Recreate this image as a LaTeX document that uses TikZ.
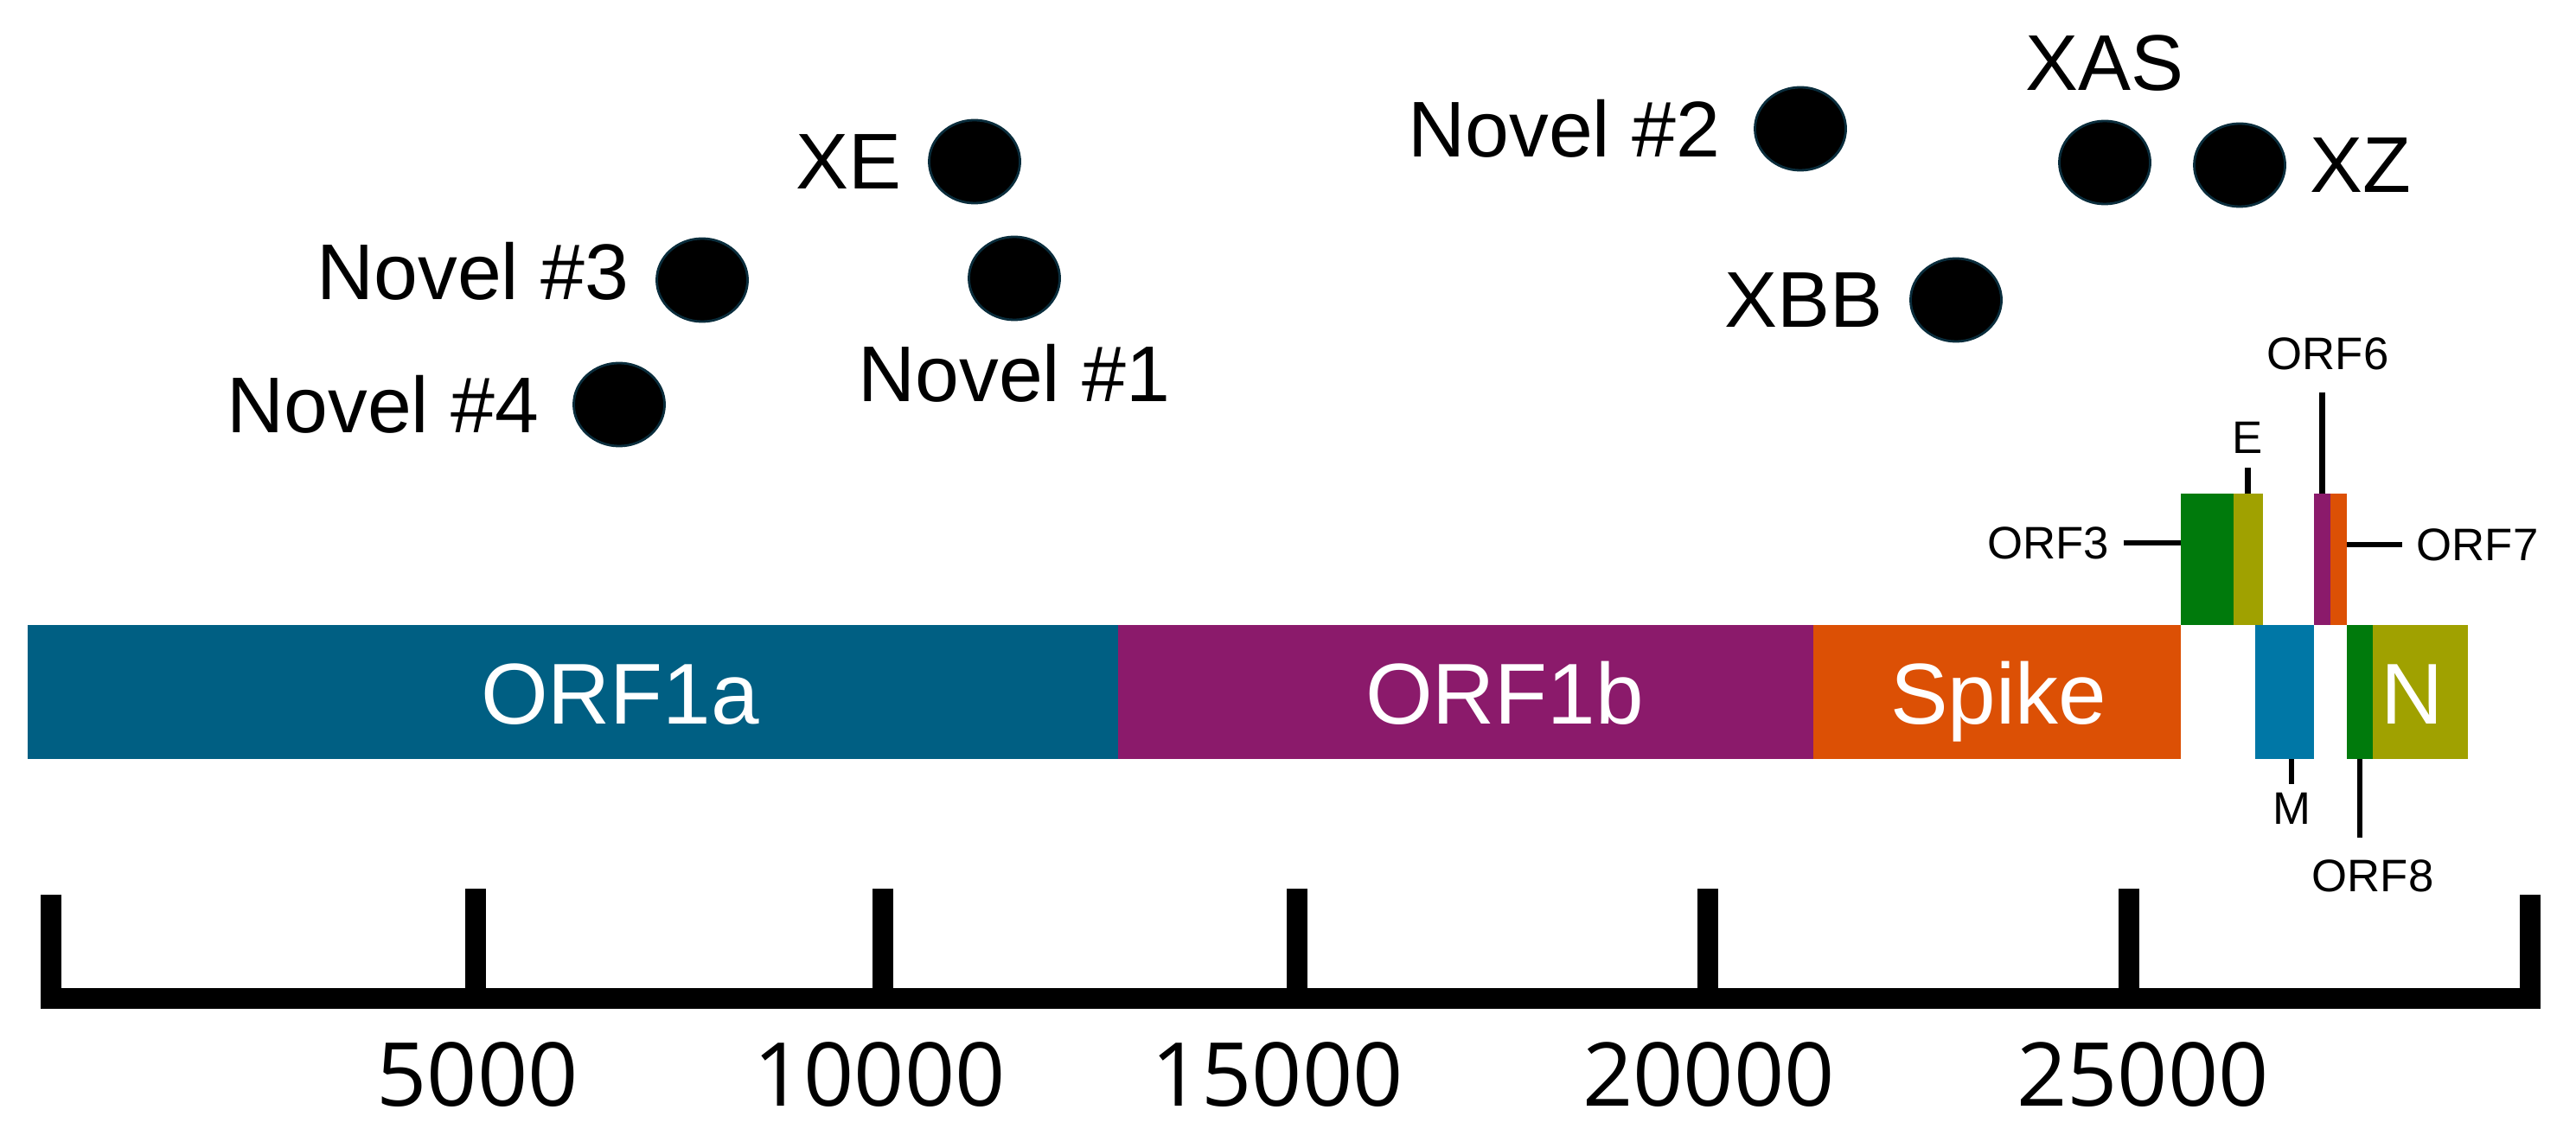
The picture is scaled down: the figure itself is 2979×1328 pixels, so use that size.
\documentclass[tikz,border=0pt]{standalone}
\usepackage{fontspec}
\setmainfont{Liberation Sans}
\newfontfamily\numfont{Open Sans}
\usetikzlibrary{positioning,shapes.geometric}

\definecolor{orfablue}{RGB}{0,95,131}
\definecolor{orfbpurple}{RGB}{139,26,107}
\definecolor{spikeorange}{RGB}{220,80,5}
\definecolor{orfgreen}{RGB}{0,122,12}
\definecolor{orfolive}{RGB}{160,161,0}
\definecolor{mblue}{RGB}{0,119,166}
\definecolor{ptedge}{RGB}{10,45,60}

\tikzset{
    gene/.style={rectangle, inner sep=0pt, outer sep=0pt, anchor=north west},
    genetxt/.style={text=white, inner sep=0pt, anchor=base, font=\fontsize{28.4}{32}\selectfont},
    varpt/.style={ellipse, fill=black, draw=ptedge, line width=0.8pt, minimum width=1.05cm, minimum height=0.96cm, inner sep=0pt},
    varlbl/.style={inner sep=0pt, font=\fontsize{26}{30}\selectfont},
    smalllbl/.style={inner sep=0.16cm, font=\fontsize{15}{18}\selectfont},
    pin/.style={line width=1.85pt},
    axisline/.style={line width=6.8pt},
    ticknum/.style={anchor=base, inner sep=0pt, font=\numfont\fontsize{29}{34}\selectfont}
}

\begin{document}
\begin{tikzpicture}[x=0.01cm,y=-0.01cm]
    \useasboundingbox (0,0) rectangle (2979,1328);

    % genome bar
    \node[gene, fill=orfablue, minimum width=12.6cm, minimum height=1.55cm] (orf1a) at (32,723) {};
    \node[gene, fill=orfbpurple, minimum width=8.04cm, minimum height=1.55cm, right=0pt of orf1a] (orf1b) {};
    \node[gene, fill=spikeorange, minimum width=4.25cm, minimum height=1.55cm, right=0pt of orf1b] (spike) {};
    \node[genetxt] (orf1a-txt) at (717,837) {ORF1a};
    \node[genetxt] (orf1b-txt) at (1740,837) {ORF1b};
    \node[genetxt] (spike-txt) at (2311,837) {Spike};

    % accessory genes
    \node[gene, fill=orfgreen, minimum width=0.6cm, minimum height=1.52cm, above right=0pt and 0pt of spike.north east] (orf3) {};
    \node[gene, fill=orfolive, minimum width=0.34cm, minimum height=1.52cm, right=0pt of orf3] (e) {};
    \node[gene, fill=orfbpurple, minimum width=0.19cm, minimum height=1.52cm] (orf6) at (2676,571) {};
    \node[gene, fill=spikeorange, minimum width=0.19cm, minimum height=1.52cm, right=0pt of orf6] (orf7) {};
    \node[gene, fill=mblue, minimum width=0.68cm, minimum height=1.55cm] (m) at (2608,723) {};
    \node[gene, fill=orfgreen, minimum width=0.3cm, minimum height=1.55cm] (orf8) at (2714,723) {};
    \node[gene, fill=orfolive, minimum width=1.1cm, minimum height=1.55cm, right=0pt of orf8] (n) {};
    \node[genetxt] (n-txt) at (2790,837) {N};

    \node[smalllbl, anchor=east] (orf3-lbl) at (2456,628) {ORF3};
    \node[smalllbl, anchor=west] (orf7-lbl) at (2778,630) {ORF7};
    \node[smalllbl, anchor=south] (e-lbl) at (2599,541) {E};
    \node[smalllbl, anchor=south, inner sep=0.25cm] (orf6-lbl) at (2692,454) {ORF6};
    \node[smalllbl, anchor=north, inner sep=0.09cm] (m-lbl) at (2650,907) {M};
    \node[smalllbl, anchor=north, inner sep=0.25cm] (orf8-lbl) at (2744,969) {ORF8};

    \draw[pin] (orf3-lbl.east -| orf3.west) -- (orf3-lbl.east);
    \draw[pin] (orf7-lbl.west -| orf7.east) -- (orf7-lbl.west);
    \draw[pin] (e.north) -- (e.north |- e-lbl.south);
    \draw[pin] (orf6.north) -- (orf6.north |- orf6-lbl.south);
    \draw[pin] (m-lbl.north |- m.south) -- (m-lbl.north);
    \draw[pin] (orf8.south) -- (orf8.south |- orf8-lbl.north);

    % recombinant breakpoints
    \node[varpt] (xe) at (1127,187) {};
    \node[varpt] (nov3) at (812,324) {};
    \node[varpt] (nov1) at (1173,322) {};
    \node[varpt] (nov4) at (716,468) {};
    \node[varpt] (nov2) at (2082,149) {};
    \node[varpt] (xas) at (2434,188) {};
    \node[varpt] (xz) at (2590,191) {};
    \node[varpt] (xbb) at (2262,347) {};

    \node[varlbl, left=0.3cm of xe] (xe-lbl) {XE};
    \node[varlbl, left=0.3cm of nov3, yshift=0.1cm] (nov3-lbl) {Novel \#3};
    \node[varlbl, below=0.26cm of nov1] (nov1-lbl) {Novel \#1};
    \node[varlbl, left=0.38cm of nov4] (nov4-lbl) {Novel \#4};
    \node[varlbl, left=0.38cm of nov2] (nov2-lbl) {Novel \#2};
    \node[varlbl, above=0.32cm of xas] (xas-lbl) {XAS};
    \node[varlbl, right=0.27cm of xz] (xz-lbl) {XZ};
    \node[varlbl, left=0.3cm of xbb] (xbb-lbl) {XBB};

    % axis
    \draw[axisline] (59,1035) -- (59,1155) -- (2926,1155) -- (2926,1035);
    \foreach \x in {550,1021,1500,1975,2462}
        \draw[axisline] (\x,1028) -- (\x,1155);
    \foreach \x/\v in {552/5000,1017/10000,1477/15000,1976/20000,2478/25000}
        \node[ticknum] (num-\v) at (\x,1279) {\v};
\end{tikzpicture}
\end{document}
